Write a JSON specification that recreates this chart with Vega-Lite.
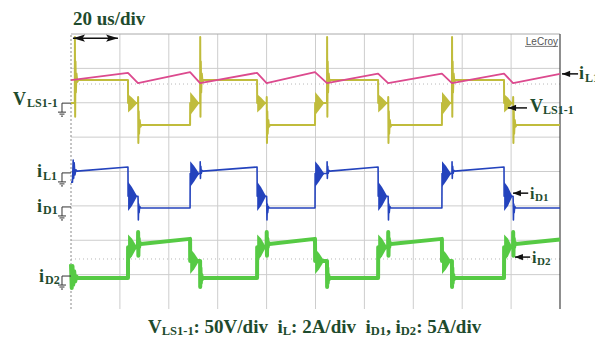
{
"$schema": "https://vega.github.io/schema/vega-lite/v6.json",
"width": 489, "height": 275,
"autosize": {"type": "none"},
"padding": {"left": 71, "top": 34, "right": 35, "bottom": 33},
"background": "white",
"config": {"view": {"stroke": null}},
"datasets": {
"tr": [
{"c":"P","t":0,"v":2.66},{"c":"P","t":23.3,"v":2.87},{"c":"P","t":27.4,"v":2.57},{"c":"P","t":48.7,"v":2.89},{"c":"P","t":52.8,"v":2.57},{"c":"P","t":76.1,"v":2.87},{"c":"P","t":80.0,"v":2.57},{"c":"P","t":99.8,"v":2.89},{"c":"P","t":104.7,"v":2.57},{"c":"P","t":125.6,"v":2.85},{"c":"P","t":129.7,"v":2.57},{"c":"P","t":151.7,"v":2.85},{"c":"P","t":155.8,"v":2.57},{"c":"P","t":177.1,"v":2.85},{"c":"P","t":180.8,"v":2.57},{"c":"P","t":200,"v":2.84},
{"c":"Y","t":0,"v":1.99},{"c":"Y","t":1.55,"v":1.99},{"c":"Y","t":1.6,"v":3.91},{"c":"Y","t":1.7,"v":1.59},{"c":"Y","t":1.85,"v":3.2},{"c":"Y","t":2.0,"v":2.3},{"c":"Y","t":2.25,"v":2.85},{"c":"Y","t":2.55,"v":2.6},{"c":"Y","t":3.0,"v":2.66},
{"c":"Y","t":23.3,"v":2.66},{"c":"Y","t":23.35,"v":1.99},
{"c":"Y","t":27.4,"v":1.99},{"c":"Y","t":27.45,"v":2.17},{"c":"Y","t":27.55,"v":0.83},{"c":"Y","t":27.7,"v":1.75},{"c":"Y","t":27.85,"v":1.1},{"c":"Y","t":28.1,"v":1.5},{"c":"Y","t":28.4,"v":1.3},{"c":"Y","t":28.8,"v":1.35},
{"c":"Y","t":48.7,"v":1.35},{"c":"Y","t":48.75,"v":1.99},
{"c":"Y","t":52.8,"v":1.99},{"c":"Y","t":52.85,"v":3.91},{"c":"Y","t":52.95,"v":1.59},{"c":"Y","t":53.1,"v":3.2},{"c":"Y","t":53.25,"v":2.3},{"c":"Y","t":53.5,"v":2.85},{"c":"Y","t":53.8,"v":2.6},{"c":"Y","t":54.2,"v":2.66},
{"c":"Y","t":76.1,"v":2.66},{"c":"Y","t":76.15,"v":1.99},
{"c":"Y","t":80.0,"v":1.99},{"c":"Y","t":80.05,"v":2.17},{"c":"Y","t":80.15,"v":0.83},{"c":"Y","t":80.3,"v":1.75},{"c":"Y","t":80.45,"v":1.1},{"c":"Y","t":80.7,"v":1.5},{"c":"Y","t":81.0,"v":1.3},{"c":"Y","t":81.4,"v":1.35},
{"c":"Y","t":99.8,"v":1.35},{"c":"Y","t":99.85,"v":1.99},
{"c":"Y","t":104.7,"v":1.99},{"c":"Y","t":104.75,"v":3.91},{"c":"Y","t":104.85,"v":1.59},{"c":"Y","t":105.0,"v":3.2},{"c":"Y","t":105.15,"v":2.3},{"c":"Y","t":105.4,"v":2.85},{"c":"Y","t":105.7,"v":2.6},{"c":"Y","t":106.1,"v":2.66},
{"c":"Y","t":125.6,"v":2.66},{"c":"Y","t":125.65,"v":1.99},
{"c":"Y","t":129.7,"v":1.99},{"c":"Y","t":129.75,"v":2.17},{"c":"Y","t":129.85,"v":0.83},{"c":"Y","t":130.0,"v":1.75},{"c":"Y","t":130.15,"v":1.1},{"c":"Y","t":130.4,"v":1.5},{"c":"Y","t":130.7,"v":1.3},{"c":"Y","t":131.1,"v":1.35},
{"c":"Y","t":151.7,"v":1.35},{"c":"Y","t":151.75,"v":1.99},
{"c":"Y","t":155.8,"v":1.99},{"c":"Y","t":155.85,"v":3.91},{"c":"Y","t":155.95,"v":1.59},{"c":"Y","t":156.1,"v":3.2},{"c":"Y","t":156.25,"v":2.3},{"c":"Y","t":156.5,"v":2.85},{"c":"Y","t":156.8,"v":2.6},{"c":"Y","t":157.2,"v":2.66},
{"c":"Y","t":177.1,"v":2.66},{"c":"Y","t":177.15,"v":1.99},
{"c":"Y","t":180.8,"v":1.99},{"c":"Y","t":180.85,"v":2.17},{"c":"Y","t":180.95,"v":0.83},{"c":"Y","t":181.1,"v":1.75},{"c":"Y","t":181.25,"v":1.1},{"c":"Y","t":181.5,"v":1.5},{"c":"Y","t":181.8,"v":1.3},{"c":"Y","t":182.2,"v":1.35},
{"c":"Y","t":200,"v":1.35},
{"c":"B","t":0,"v":-0.31},{"c":"B","t":0.6,"v":-0.31},{"c":"B","t":0.9,"v":0.33},{"c":"B","t":1.1,"v":-0.2},{"c":"B","t":1.3,"v":0.25},{"c":"B","t":1.6,"v":-0.1},{"c":"B","t":2.0,"v":0.05},{"c":"B","t":2.5,"v":0.01},
{"c":"B","t":23.3,"v":0.13},{"c":"B","t":23.35,"v":-0.72},
{"c":"B","t":27.4,"v":-0.72},{"c":"B","t":27.45,"v":-0.83},{"c":"B","t":27.55,"v":-1.41},{"c":"B","t":27.7,"v":-0.95},{"c":"B","t":27.85,"v":-1.2},{"c":"B","t":28.1,"v":-1.02},{"c":"B","t":28.5,"v":-1.06},
{"c":"B","t":48.7,"v":-1.06},{"c":"B","t":48.75,"v":-0.06},
{"c":"B","t":52.8,"v":-0.06},{"c":"B","t":52.85,"v":0.28},{"c":"B","t":52.95,"v":-0.2},{"c":"B","t":53.1,"v":0.15},{"c":"B","t":53.3,"v":-0.05},{"c":"B","t":53.6,"v":0.03},{"c":"B","t":54.0,"v":0.01},
{"c":"B","t":76.1,"v":0.13},{"c":"B","t":76.15,"v":-0.72},
{"c":"B","t":80.0,"v":-0.72},{"c":"B","t":80.05,"v":-0.83},{"c":"B","t":80.15,"v":-1.41},{"c":"B","t":80.3,"v":-0.95},{"c":"B","t":80.45,"v":-1.2},{"c":"B","t":80.7,"v":-1.02},{"c":"B","t":81.1,"v":-1.06},
{"c":"B","t":99.8,"v":-1.06},{"c":"B","t":99.85,"v":-0.06},
{"c":"B","t":104.7,"v":-0.06},{"c":"B","t":104.75,"v":0.28},{"c":"B","t":104.85,"v":-0.2},{"c":"B","t":105.0,"v":0.15},{"c":"B","t":105.2,"v":-0.05},{"c":"B","t":105.5,"v":0.03},{"c":"B","t":105.9,"v":0.01},
{"c":"B","t":125.6,"v":0.13},{"c":"B","t":125.65,"v":-0.72},
{"c":"B","t":129.7,"v":-0.72},{"c":"B","t":129.75,"v":-0.83},{"c":"B","t":129.85,"v":-1.41},{"c":"B","t":130.0,"v":-0.95},{"c":"B","t":130.15,"v":-1.2},{"c":"B","t":130.4,"v":-1.02},{"c":"B","t":130.8,"v":-1.06},
{"c":"B","t":151.7,"v":-1.06},{"c":"B","t":151.75,"v":-0.06},
{"c":"B","t":155.8,"v":-0.06},{"c":"B","t":155.85,"v":0.28},{"c":"B","t":155.95,"v":-0.2},{"c":"B","t":156.1,"v":0.15},{"c":"B","t":156.3,"v":-0.05},{"c":"B","t":156.6,"v":0.03},{"c":"B","t":157.0,"v":0.01},
{"c":"B","t":177.1,"v":0.13},{"c":"B","t":177.15,"v":-0.72},
{"c":"B","t":180.8,"v":-0.72},{"c":"B","t":180.85,"v":-0.83},{"c":"B","t":180.95,"v":-1.41},{"c":"B","t":181.1,"v":-0.95},{"c":"B","t":181.25,"v":-1.2},{"c":"B","t":181.5,"v":-1.02},{"c":"B","t":181.9,"v":-1.06},
{"c":"B","t":200,"v":-1.06},
{"c":"G","t":0,"v":-2.7},{"c":"G","t":0.3,"v":-3.39},{"c":"G","t":0.6,"v":-2.75},{"c":"G","t":0.9,"v":-3.3},{"c":"G","t":1.3,"v":-2.9},{"c":"G","t":1.7,"v":-3.2},{"c":"G","t":2.2,"v":-3.05},{"c":"G","t":2.7,"v":-3.1},
{"c":"G","t":23.3,"v":-3.1},{"c":"G","t":23.35,"v":-2.2},
{"c":"G","t":27.4,"v":-2.2},{"c":"G","t":27.45,"v":-1.76},{"c":"G","t":27.55,"v":-2.45},{"c":"G","t":27.7,"v":-1.95},{"c":"G","t":27.85,"v":-2.2},{"c":"G","t":28.1,"v":-2.07},{"c":"G","t":28.5,"v":-2.11},
{"c":"G","t":48.7,"v":-1.96},{"c":"G","t":48.75,"v":-2.6},
{"c":"G","t":52.8,"v":-2.6},{"c":"G","t":52.85,"v":-3.36},{"c":"G","t":52.95,"v":-2.8},{"c":"G","t":53.1,"v":-3.25},{"c":"G","t":53.3,"v":-3.0},{"c":"G","t":53.6,"v":-3.13},{"c":"G","t":54.0,"v":-3.1},
{"c":"G","t":76.1,"v":-3.1},{"c":"G","t":76.15,"v":-2.2},
{"c":"G","t":80.0,"v":-2.2},{"c":"G","t":80.05,"v":-1.76},{"c":"G","t":80.15,"v":-2.45},{"c":"G","t":80.3,"v":-1.95},{"c":"G","t":80.45,"v":-2.2},{"c":"G","t":80.7,"v":-2.07},{"c":"G","t":81.1,"v":-2.11},
{"c":"G","t":99.8,"v":-1.96},{"c":"G","t":99.85,"v":-2.6},
{"c":"G","t":104.7,"v":-2.6},{"c":"G","t":104.75,"v":-3.36},{"c":"G","t":104.85,"v":-2.8},{"c":"G","t":105.0,"v":-3.25},{"c":"G","t":105.2,"v":-3.0},{"c":"G","t":105.5,"v":-3.13},{"c":"G","t":105.9,"v":-3.1},
{"c":"G","t":125.6,"v":-3.1},{"c":"G","t":125.65,"v":-2.2},
{"c":"G","t":129.7,"v":-2.2},{"c":"G","t":129.75,"v":-1.76},{"c":"G","t":129.85,"v":-2.45},{"c":"G","t":130.0,"v":-1.95},{"c":"G","t":130.15,"v":-2.2},{"c":"G","t":130.4,"v":-2.07},{"c":"G","t":130.8,"v":-2.11},
{"c":"G","t":151.7,"v":-1.96},{"c":"G","t":151.75,"v":-2.6},
{"c":"G","t":155.8,"v":-2.6},{"c":"G","t":155.85,"v":-3.36},{"c":"G","t":155.95,"v":-2.8},{"c":"G","t":156.1,"v":-3.25},{"c":"G","t":156.3,"v":-3.0},{"c":"G","t":156.6,"v":-3.13},{"c":"G","t":157.0,"v":-3.1},
{"c":"G","t":177.1,"v":-3.1},{"c":"G","t":177.15,"v":-2.2},
{"c":"G","t":180.8,"v":-2.2},{"c":"G","t":180.85,"v":-1.76},{"c":"G","t":180.95,"v":-2.45},{"c":"G","t":181.1,"v":-1.95},{"c":"G","t":181.25,"v":-2.2},{"c":"G","t":181.5,"v":-2.07},{"c":"G","t":181.9,"v":-2.11},
{"c":"G","t":200,"v":-1.98}
],
"wd": [
{"c":"Y","w":"y1","t":23.35,"v":2.25,"v2":1.72},{"c":"Y","w":"y1","t":24.9,"v":2.15,"v2":1.82},{"c":"Y","w":"y1","t":26.9,"v":2.01,"v2":1.97},
{"c":"Y","w":"y2","t":48.75,"v":2.31,"v2":1.64},{"c":"Y","w":"y2","t":50.3,"v":2.18,"v2":1.78},{"c":"Y","w":"y2","t":52.3,"v":2.01,"v2":1.97},
{"c":"Y","w":"y3","t":76.15,"v":2.25,"v2":1.72},{"c":"Y","w":"y3","t":77.7,"v":2.15,"v2":1.82},{"c":"Y","w":"y3","t":79.6,"v":2.01,"v2":1.97},
{"c":"Y","w":"y4","t":99.85,"v":2.31,"v2":1.64},{"c":"Y","w":"y4","t":101.4,"v":2.18,"v2":1.78},{"c":"Y","w":"y4","t":103.4,"v":2.01,"v2":1.97},
{"c":"Y","w":"y5","t":125.65,"v":2.25,"v2":1.72},{"c":"Y","w":"y5","t":127.2,"v":2.15,"v2":1.82},{"c":"Y","w":"y5","t":129.2,"v":2.01,"v2":1.97},
{"c":"Y","w":"y6","t":151.75,"v":2.31,"v2":1.64},{"c":"Y","w":"y6","t":153.3,"v":2.18,"v2":1.78},{"c":"Y","w":"y6","t":155.3,"v":2.01,"v2":1.97},
{"c":"Y","w":"y7","t":177.15,"v":2.25,"v2":1.72},{"c":"Y","w":"y7","t":178.7,"v":2.15,"v2":1.82},{"c":"Y","w":"y7","t":180.4,"v":2.01,"v2":1.97},
{"c":"B","w":"b1","t":23.35,"v":-0.3,"v2":-1.15},{"c":"B","w":"b1","t":24.9,"v":-0.45,"v2":-1.0},{"c":"B","w":"b1","t":26.9,"v":-0.7,"v2":-0.74},
{"c":"B","w":"b2","t":48.75,"v":0.3,"v2":-0.45},{"c":"B","w":"b2","t":50.3,"v":0.17,"v2":-0.3},{"c":"B","w":"b2","t":52.3,"v":-0.04,"v2":-0.08},
{"c":"B","w":"b3","t":76.15,"v":-0.3,"v2":-1.15},{"c":"B","w":"b3","t":77.7,"v":-0.45,"v2":-1.0},{"c":"B","w":"b3","t":79.6,"v":-0.7,"v2":-0.74},
{"c":"B","w":"b4","t":99.85,"v":0.3,"v2":-0.45},{"c":"B","w":"b4","t":101.4,"v":0.17,"v2":-0.3},{"c":"B","w":"b4","t":103.4,"v":-0.04,"v2":-0.08},
{"c":"B","w":"b5","t":125.65,"v":-0.3,"v2":-1.15},{"c":"B","w":"b5","t":127.2,"v":-0.45,"v2":-1.0},{"c":"B","w":"b5","t":129.2,"v":-0.7,"v2":-0.74},
{"c":"B","w":"b6","t":151.75,"v":0.3,"v2":-0.45},{"c":"B","w":"b6","t":153.3,"v":0.17,"v2":-0.3},{"c":"B","w":"b6","t":155.3,"v":-0.04,"v2":-0.08},
{"c":"B","w":"b7","t":177.15,"v":-0.3,"v2":-1.15},{"c":"B","w":"b7","t":178.7,"v":-0.45,"v2":-1.0},{"c":"B","w":"b7","t":180.4,"v":-0.7,"v2":-0.74},
{"c":"G","w":"g1","t":23.35,"v":-1.83,"v2":-2.6},{"c":"G","w":"g1","t":24.9,"v":-1.95,"v2":-2.47},{"c":"G","w":"g1","t":26.9,"v":-2.18,"v2":-2.22},
{"c":"G","w":"g2","t":48.75,"v":-2.25,"v2":-2.98},{"c":"G","w":"g2","t":50.3,"v":-2.37,"v2":-2.85},{"c":"G","w":"g2","t":52.3,"v":-2.58,"v2":-2.62},
{"c":"G","w":"g3","t":76.15,"v":-1.83,"v2":-2.6},{"c":"G","w":"g3","t":77.7,"v":-1.95,"v2":-2.47},{"c":"G","w":"g3","t":79.6,"v":-2.18,"v2":-2.22},
{"c":"G","w":"g4","t":99.85,"v":-2.25,"v2":-2.98},{"c":"G","w":"g4","t":101.4,"v":-2.37,"v2":-2.85},{"c":"G","w":"g4","t":103.4,"v":-2.58,"v2":-2.62},
{"c":"G","w":"g5","t":125.65,"v":-1.83,"v2":-2.6},{"c":"G","w":"g5","t":127.2,"v":-1.95,"v2":-2.47},{"c":"G","w":"g5","t":129.2,"v":-2.18,"v2":-2.22},
{"c":"G","w":"g6","t":151.75,"v":-2.25,"v2":-2.98},{"c":"G","w":"g6","t":153.3,"v":-2.37,"v2":-2.85},{"c":"G","w":"g6","t":155.3,"v":-2.58,"v2":-2.62},
{"c":"G","w":"g7","t":177.15,"v":-1.83,"v2":-2.6},{"c":"G","w":"g7","t":178.7,"v":-1.95,"v2":-2.47},{"c":"G","w":"g7","t":180.4,"v":-2.18,"v2":-2.22}
],
"rl": [
{"k":"grid","t":20,"t2":20,"v":-4,"v2":4},{"k":"grid","t":40,"t2":40,"v":-4,"v2":4},{"k":"grid","t":60,"t2":60,"v":-4,"v2":4},{"k":"grid","t":80,"t2":80,"v":-4,"v2":4},{"k":"grid","t":100,"t2":100,"v":-4,"v2":4},{"k":"grid","t":120,"t2":120,"v":-4,"v2":4},{"k":"grid","t":140,"t2":140,"v":-4,"v2":4},{"k":"grid","t":160,"t2":160,"v":-4,"v2":4},{"k":"grid","t":180,"t2":180,"v":-4,"v2":4},
{"k":"grid","t":0,"t2":200,"v":-3,"v2":-3},{"k":"grid","t":0,"t2":200,"v":-2,"v2":-2},{"k":"grid","t":0,"t2":200,"v":-1,"v2":-1},{"k":"grid","t":0,"t2":200,"v":0,"v2":0},{"k":"grid","t":0,"t2":200,"v":1,"v2":1},{"k":"grid","t":0,"t2":200,"v":2,"v2":2},{"k":"grid","t":0,"t2":200,"v":3,"v2":3},
{"k":"dot","t":0,"t2":200,"v":2.545,"v2":2.545},{"k":"dot","t":0,"t2":200,"v":-2.545,"v2":-2.545},
{"k":"top","t":0,"t2":200,"v":4,"v2":4},
{"k":"lb","t":0,"t2":0,"v":-4,"v2":4},
{"k":"rb","t":200,"t2":200,"v":-4,"v2":4},
{"k":"arrow","t":0.8,"t2":19.2,"v":3.88,"v2":3.88},
{"k":"arrow","t":200.8,"t2":207.4,"v":2.84,"v2":2.84},
{"k":"arrow","t":178.7,"t2":186.5,"v":1.85,"v2":1.85},
{"k":"arrow","t":180.8,"t2":187.0,"v":-0.63,"v2":-0.63},
{"k":"arrow","t":181.6,"t2":187.8,"v":-2.49,"v2":-2.49},
{"k":"ul","t":185.7,"t2":199.2,"v":3.64,"v2":3.64}
],
"tk": [
{"o":"v","p":-3.8},{"o":"v","p":-3.6},{"o":"v","p":-3.4},{"o":"v","p":-3.2},{"o":"v","p":-2.8},{"o":"v","p":-2.6},{"o":"v","p":-2.4},{"o":"v","p":-2.2},{"o":"v","p":-1.8},{"o":"v","p":-1.6},{"o":"v","p":-1.4},{"o":"v","p":-1.2},{"o":"v","p":-0.8},{"o":"v","p":-0.6},{"o":"v","p":-0.4},{"o":"v","p":-0.2},{"o":"v","p":0.2},{"o":"v","p":0.4},{"o":"v","p":0.6},{"o":"v","p":0.8},{"o":"v","p":1.2},{"o":"v","p":1.4},{"o":"v","p":1.6},{"o":"v","p":1.8},{"o":"v","p":2.2},{"o":"v","p":2.4},{"o":"v","p":2.6},{"o":"v","p":2.8},{"o":"v","p":3.2},{"o":"v","p":3.4},{"o":"v","p":3.6},{"o":"v","p":3.8},
{"o":"h","p":4},{"o":"h","p":8},{"o":"h","p":12},{"o":"h","p":16},{"o":"h","p":24},{"o":"h","p":28},{"o":"h","p":32},{"o":"h","p":36},{"o":"h","p":44},{"o":"h","p":48},{"o":"h","p":52},{"o":"h","p":56},{"o":"h","p":64},{"o":"h","p":68},{"o":"h","p":72},{"o":"h","p":76},{"o":"h","p":84},{"o":"h","p":88},{"o":"h","p":92},{"o":"h","p":96},{"o":"h","p":104},{"o":"h","p":108},{"o":"h","p":112},{"o":"h","p":116},{"o":"h","p":124},{"o":"h","p":128},{"o":"h","p":132},{"o":"h","p":136},{"o":"h","p":144},{"o":"h","p":148},{"o":"h","p":152},{"o":"h","p":156},{"o":"h","p":164},{"o":"h","p":168},{"o":"h","p":172},{"o":"h","p":176},{"o":"h","p":184},{"o":"h","p":188},{"o":"h","p":192},{"o":"h","p":196}
],
"pt": [
{"k":"hl","t":3.27,"v":3.88},{"k":"hr","t":16.8,"v":3.88},
{"k":"hs","t":202.5,"v":2.84},{"k":"hs","t":180.4,"v":1.85},{"k":"hs","t":182.4,"v":-0.63},{"k":"hs","t":183.2,"v":-2.49},
{"k":"gnd","t":-2.66,"v":1.80},{"k":"gnd","t":-2.66,"v":-0.23},{"k":"gnd","t":-2.66,"v":-1.22},{"k":"gnd","t":-2.66,"v":-3.23}
],
"tx": [
{"k":"big","t":0.82,"v":4.262,"s":"20 us/div"},
{"k":"big","t":31.5,"v":-4.70,"s":"V"},
{"k":"csub","t":37.1,"v":-4.76,"s":"LS1-1"},
{"k":"big","t":50.1,"v":-4.70,"s":": 50V/div"},
{"k":"big","t":84.5,"v":-4.70,"s":"i"},
{"k":"csub","t":86.6,"v":-4.76,"s":"L"},
{"k":"big","t":90.0,"v":-4.70,"s":": 2A/div"},
{"k":"big","t":120.4,"v":-4.70,"s":"i"},
{"k":"csub","t":122.6,"v":-4.76,"s":"D1"},
{"k":"big","t":128.9,"v":-4.70,"s":","},
{"k":"big","t":132.7,"v":-4.70,"s":"i"},
{"k":"csub","t":134.9,"v":-4.76,"s":"D2"},
{"k":"big","t":141.2,"v":-4.70,"s":": 5A/div"},
{"k":"lab","t":-23.72,"v":1.935,"s":"V"},
{"k":"labsub","t":-18.0,"v":1.876,"s":"LS1-1"},
{"k":"lab","t":-13.9,"v":-0.16,"s":"i"},
{"k":"labsub","t":-11.45,"v":-0.247,"s":"L1"},
{"k":"lab","t":-13.9,"v":-1.178,"s":"i"},
{"k":"labsub","t":-11.45,"v":-1.236,"s":"D1"},
{"k":"lab","t":-13.09,"v":-3.215,"s":"i"},
{"k":"labsub","t":-10.63,"v":-3.273,"s":"D2"},
{"k":"lab","t":187.73,"v":1.731,"s":"V"},
{"k":"labsub","t":193.05,"v":1.673,"s":"LS1-1"},
{"k":"lab","t":207.8,"v":2.69,"s":"i"},
{"k":"labsub","t":210.2,"v":2.60,"s":"L1"},
{"k":"rlab","t":187.73,"v":-0.80,"s":"i"},
{"k":"rsub","t":189.8,"v":-0.858,"s":"D1"},
{"k":"rlab","t":188.55,"v":-2.662,"s":"i"},
{"k":"rsub","t":190.6,"v":-2.72,"s":"D2"},
{"k":"brand","t":199.2,"v":3.68,"s":"LeCroy"}
]
},
"encoding": {
"x": {"field": "t", "type": "quantitative", "scale": {"domain": [0, 200], "nice": false, "zero": false}, "axis": null},
"y": {"field": "v", "type": "quantitative", "scale": {"domain": [-4, 4], "nice": false, "zero": false}, "axis": null}
},
"layer": [
{"data": {"name": "rl"}, "transform": [{"filter": "datum.k == 'grid'"}], "mark": {"type": "rule", "color": "#cdcdcd", "strokeWidth": 1}, "encoding": {"x2": {"field": "t2"}, "y2": {"field": "v2"}}},
{"data": {"name": "rl"}, "transform": [{"filter": "datum.k == 'dot'"}], "mark": {"type": "rule", "color": "#b8b8b8", "strokeWidth": 1, "strokeDash": [1, 3]}, "encoding": {"x2": {"field": "t2"}, "y2": {"field": "v2"}}},
{"data": {"name": "tk"}, "transform": [{"filter": "datum.o == 'v'"}], "mark": {"type": "rule", "color": "#bbbbbb", "strokeWidth": 1}, "encoding": {"x": {"datum": 99.3, "type": "quantitative"}, "x2": {"datum": 100.7}, "y": {"field": "p", "type": "quantitative"}, "y2": {"field": "p"}}},
{"data": {"name": "tk"}, "transform": [{"filter": "datum.o == 'h'"}], "mark": {"type": "rule", "color": "#bbbbbb", "strokeWidth": 1}, "encoding": {"x": {"field": "p", "type": "quantitative"}, "x2": {"field": "p"}, "y": {"datum": -0.06, "type": "quantitative"}, "y2": {"datum": 0.06}}},
{"data": {"name": "rl"}, "transform": [{"filter": "datum.k == 'top'"}], "mark": {"type": "rule", "color": "#aaaaaa", "strokeWidth": 1}, "encoding": {"x2": {"field": "t2"}, "y2": {"field": "v2"}}},
{"data": {"name": "rl"}, "transform": [{"filter": "datum.k == 'lb'"}], "mark": {"type": "rule", "color": "#8a8a8a", "strokeWidth": 1, "strokeDash": [2, 2]}, "encoding": {"x2": {"field": "t2"}, "y2": {"field": "v2"}}},
{"data": {"name": "rl"}, "transform": [{"filter": "datum.k == 'rb'"}], "mark": {"type": "rule", "color": "#444444", "strokeWidth": 1.2}, "encoding": {"x2": {"field": "t2"}, "y2": {"field": "v2"}}},
{"data": {"name": "wd"}, "transform": [{"filter": "datum.c == 'Y'"}], "mark": {"type": "area", "color": "#c0bc3c", "opacity": 1}, "encoding": {"y2": {"field": "v2"}, "detail": {"field": "w"}}},
{"data": {"name": "tr"}, "transform": [{"filter": "datum.c == 'Y'"}], "mark": {"type": "line", "color": "#c0bc3c", "strokeWidth": 2, "strokeJoin": "round"}, "encoding": {"detail": {"field": "c"}}},
{"data": {"name": "tr"}, "transform": [{"filter": "datum.c == 'P'"}], "mark": {"type": "line", "color": "#dc4a8e", "strokeWidth": 1.8, "strokeJoin": "round"}, "encoding": {"detail": {"field": "c"}}},
{"data": {"name": "wd"}, "transform": [{"filter": "datum.c == 'B'"}], "mark": {"type": "area", "color": "#2443bd", "opacity": 1}, "encoding": {"y2": {"field": "v2"}, "detail": {"field": "w"}}},
{"data": {"name": "tr"}, "transform": [{"filter": "datum.c == 'B'"}], "mark": {"type": "line", "color": "#2443bd", "strokeWidth": 1.6, "strokeJoin": "round"}, "encoding": {"detail": {"field": "c"}}},
{"data": {"name": "wd"}, "transform": [{"filter": "datum.c == 'G'"}], "mark": {"type": "area", "color": "#56ca44", "opacity": 1}, "encoding": {"y2": {"field": "v2"}, "detail": {"field": "w"}}},
{"data": {"name": "tr"}, "transform": [{"filter": "datum.c == 'G'"}], "mark": {"type": "line", "color": "#56ca44", "strokeWidth": 4, "strokeJoin": "round"}, "encoding": {"detail": {"field": "c"}}},
{"data": {"name": "rl"}, "transform": [{"filter": "datum.k == 'arrow'"}], "mark": {"type": "rule", "color": "#111111", "strokeWidth": 1.5}, "encoding": {"x2": {"field": "t2"}, "y2": {"field": "v2"}}},
{"data": {"name": "pt"}, "transform": [{"filter": "datum.k == 'hl'"}], "mark": {"type": "point", "shape": "M -1 0 L 1 -0.6 L 0.6 0 L 1 0.6 Z", "filled": true, "color": "#111111", "size": 144, "opacity": 1, "strokeWidth": 0}},
{"data": {"name": "pt"}, "transform": [{"filter": "datum.k == 'hr'"}], "mark": {"type": "point", "shape": "M 1 0 L -1 -0.6 L -0.6 0 L -1 0.6 Z", "filled": true, "color": "#111111", "size": 144, "opacity": 1, "strokeWidth": 0}},
{"data": {"name": "pt"}, "transform": [{"filter": "datum.k == 'hs'"}], "mark": {"type": "point", "shape": "M -1 0 L 1 -0.8 L 1 0.8 Z", "filled": true, "color": "#111111", "size": 64, "opacity": 1, "strokeWidth": 0}},
{"data": {"name": "pt"}, "transform": [{"filter": "datum.k == 'gnd'"}], "mark": {"type": "point", "shape": "M 1 -1 L -0.385 -1 L -0.385 0.385 M -1 0.385 L 0.23 0.385 M -0.77 0.69 L 0 0.69 M -0.54 1 L -0.23 1", "filled": false, "color": "#333333", "size": 169, "opacity": 1, "strokeWidth": 1}},
{"data": {"name": "tx"}, "transform": [{"filter": "datum.k == 'big'"}], "mark": {"type": "text", "font": "Liberation Serif", "fontWeight": "bold", "fontSize": 19, "color": "#1e4b2d", "align": "left", "baseline": "alphabetic"}, "encoding": {"text": {"field": "s"}}},
{"data": {"name": "tx"}, "transform": [{"filter": "datum.k == 'csub'"}], "mark": {"type": "text", "font": "Liberation Serif", "fontWeight": "bold", "fontSize": 12.5, "color": "#1e4b2d", "align": "left", "baseline": "alphabetic"}, "encoding": {"text": {"field": "s"}}},
{"data": {"name": "tx"}, "transform": [{"filter": "datum.k == 'lab'"}], "mark": {"type": "text", "font": "Liberation Serif", "fontWeight": "bold", "fontSize": 18, "color": "#1e4b2d", "align": "left", "baseline": "alphabetic"}, "encoding": {"text": {"field": "s"}}},
{"data": {"name": "tx"}, "transform": [{"filter": "datum.k == 'labsub'"}], "mark": {"type": "text", "font": "Liberation Serif", "fontWeight": "bold", "fontSize": 12, "color": "#1e4b2d", "align": "left", "baseline": "alphabetic"}, "encoding": {"text": {"field": "s"}}},
{"data": {"name": "tx"}, "transform": [{"filter": "datum.k == 'rlab'"}], "mark": {"type": "text", "font": "Liberation Serif", "fontWeight": "bold", "fontSize": 16, "color": "#1e4b2d", "align": "left", "baseline": "alphabetic"}, "encoding": {"text": {"field": "s"}}},
{"data": {"name": "tx"}, "transform": [{"filter": "datum.k == 'rsub'"}], "mark": {"type": "text", "font": "Liberation Serif", "fontWeight": "bold", "fontSize": 11, "color": "#1e4b2d", "align": "left", "baseline": "alphabetic"}, "encoding": {"text": {"field": "s"}}},
{"data": {"name": "tx"}, "transform": [{"filter": "datum.k == 'brand'"}], "mark": {"type": "text", "font": "Liberation Sans", "fontSize": 10, "color": "#555555", "align": "right", "baseline": "alphabetic"}, "encoding": {"text": {"field": "s"}}},
{"data": {"name": "rl"}, "transform": [{"filter": "datum.k == 'ul'"}], "mark": {"type": "rule", "color": "#555555", "strokeWidth": 0.8}, "encoding": {"x2": {"field": "t2"}, "y2": {"field": "v2"}}}
]
}
